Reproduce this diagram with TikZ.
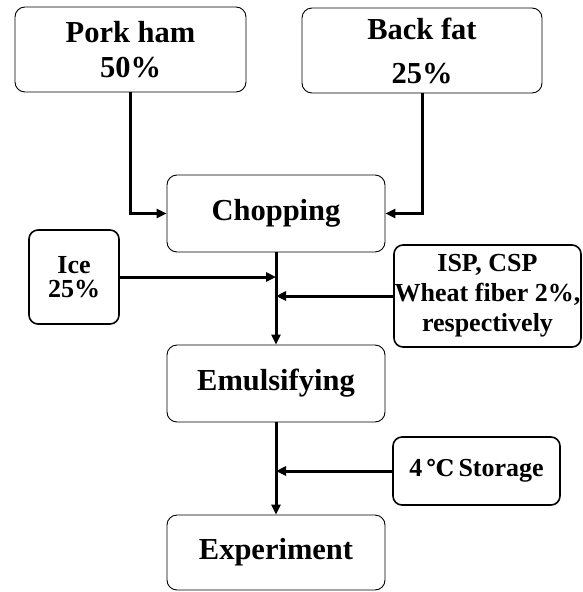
\documentclass[tikz,border=0pt]{standalone}
\usepackage{fontspec}
\setmainfont{Liberation Serif}
\newfontfamily\degfont{DejaVu Serif}
\usetikzlibrary{arrows.meta}
\begin{document}
\begin{tikzpicture}[x=1pt,y=-1pt,
        bigbox/.style={draw,rounded corners=10pt,line width=0.9pt,align=center,inner sep=0pt,
            font=\bfseries\fontsize{30.5}{35}\selectfont},
        smallbox/.style={draw,rounded corners=9pt,line width=1.6pt,align=center,inner sep=0pt,
            font=\bfseries\fontsize{26}{30}\selectfont},
        flow/.style={line width=3pt,-{Triangle[length=10pt,width=9pt]}}]
        \useasboundingbox (0,0) rectangle (583,592);
        % inputs
        \node at (130.5,49.5)[bigbox,minimum width=231pt,minimum height=85pt](pork){Pork ham\\50\%};
        \node at (422,50.5)[bigbox,minimum width=240pt,minimum height=85pt](back){Back fat\\[9pt]25\%};
        % main line
        \node at (276,213.5)[bigbox,minimum width=218pt,minimum height=77pt](chop){Chopping};
        \node at (276,383.5)[bigbox,minimum width=218pt,minimum height=77pt](emul){Emulsifying};
        \node at (276,552.5)[bigbox,minimum width=218pt,minimum height=75pt](expt){Experiment};
        % additions
        \node at (74,277)[smallbox,minimum width=90pt,minimum height=94pt,
            font=\bfseries\fontsize{26}{24}\selectfont](ice){Ice\\25\%};
        \node at (487.5,296)[smallbox,minimum width=187pt,minimum height=102pt](isp){ISP, CSP\\Wheat fiber 2\%,\\respectively};
        \node at (476.5,471)[smallbox,minimum width=167pt,minimum height=68pt](stor){4\,{\degfont\fontsize{23}{24}\selectfont ℃}\,Storage};
        % arrows
        \draw[flow] (pork.south) |- (chop.west);
        \draw[flow] (back.south) |- (chop.east);
        \draw[flow] (chop.south) -- (emul.north);
        \draw[flow] (ice.east) -- (ice.east -| chop.south);
        \draw[flow] (isp.west) -- (isp.west -| chop.south);
        \draw[flow] (emul.south) -- (expt.north);
        \draw[flow] (stor.west) -- (stor.west -| emul.south);
    \end{tikzpicture}
\end{document}
